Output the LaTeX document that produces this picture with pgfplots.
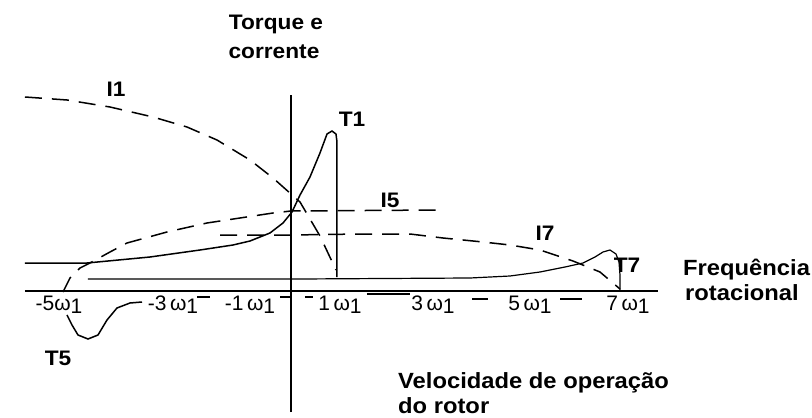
\documentclass[border=0pt]{standalone}
\usepackage{fontspec}
\setmainfont{Liberation Sans}
\newfontfamily\labelfont[FakeStretch=1.08]{Liberation Sans}
\usepackage{pgfplots}
\pgfplotsset{compat=1.18}

% x in multiples of the supply frequency omega_1, y in arbitrary torque/current units
\pgfplotstableread{
x y
-5.783 194
-4.870 191
-3.935 184
-3.000 174
-2.261 164
-1.609 151
-0.891 131
-0.391 113
0.196 89
0.630 55
0.978 21
}\curIone
\pgfplotstableread{
x y
-4.957 -1
-4.804 13
-4.587 23
-4.370 28
-3.935 39
-3.565 48
-2.696 59
-1.826 68
-1.109 73
-0.391 78
0 80
3.239 81
}\curIfive
\pgfplotstableread{
x y
-1.543 56
0 56
1.5 57
2.587 57
3.304 53
4.174 49
4.761 46
5.413 41
6.130 30
6.717 19
7.152 2
}\curIseven
\pgfplotstableread{
x y
-5.783 28
-4.435 28
-3.065 34
-1.978 41
-1.261 46
-0.891 50
-0.457 58
-0.174 68
0.022 79
0.196 96
0.413 114
0.630 138
0.783 157
0.891 160
0.978 157
1.0 149
1.0 14
}\torTone
\pgfplotstableread{
x y
-4.870 -24
-4.761 -34
-4.630 -44
-4.413 -48
-4.196 -44
-4.0 -29
-3.783 -17
-3.5 -12
-3.239 -11
}\torTfive
\pgfplotstableread{
x y
-4.413 12
0.196 12
3.891 13
4.761 15
5.413 19
5.957 24
6.348 28
6.609 34
6.783 39
6.935 41
7.065 37
7.130 29
7.152 16
7.152 0
}\torTseven

\begin{document}
\begin{tikzpicture}
\path[use as bounding box] (-291pt,-127pt) rectangle (521pt,291pt);
\begin{axis}[
  anchor=origin, at={(0pt,0pt)},
  x=46pt, y=1pt,
  xmin=-5.783, xmax=7.978, ymin=-121, ymax=196,
  axis lines=middle,
  axis line style={line width=2.6pt,-},
  xtick=\empty, ytick=\empty,
  clip=false,
  unbounded coords=jump,
  every axis plot/.append style={line width=1.5pt, no marks},
  dashcurve/.style={black, dash pattern=on 17pt off 10pt},
]
\addplot[dashcurve] table {\curIone};
\addplot[dashcurve] table {\curIfive};
\addplot[dashcurve] table {\curIseven};
\addplot[black] table {\torTone};
\addplot[black] table {\torTfive};
\addplot[black, line width=1.2pt] table {\torTseven};
% short strokes between the frequency labels
\addplot[black, line width=1.2pt] coordinates {
  (-2.043,-6) (-1.761,-6) (nan,nan)
  (-0.239,-6) (-0.022,-6) (nan,nan)
  (0.304,-6) (0.478,-6) (nan,nan)
  (1.652,-3) (2.587,-3) (nan,nan)
  (3.935,-8) (4.283,-8) (nan,nan)
  (5.848,-8) (6.326,-8)};
\end{axis}

% frequency labels
\begin{scope}[every node/.style={anchor=base, inner sep=0pt, font=\fontsize{21}{25}\selectfont}]
\node at (-232pt,-19pt) {-5ω\raisebox{-0.35ex}{1}};
\node at (-118pt,-19pt) {-3\,ω\raisebox{-0.35ex}{1}};
\node at (-41pt,-19pt) {-1\,ω\raisebox{-0.35ex}{1}};
\node at (49pt,-19pt) {1\,ω\raisebox{-0.35ex}{1}};
\node at (142pt,-19pt) {3\,ω\raisebox{-0.35ex}{1}};
\node at (239pt,-19pt) {5\,ω\raisebox{-0.35ex}{1}};
\node at (337pt,-19pt) {7\,ω\raisebox{-0.35ex}{1}};
\end{scope}

% curve names and axis titles
\begin{scope}[every node/.style={inner sep=0pt, font=\labelfont\bfseries\fontsize{21}{25}\selectfont}]
\node[anchor=base] at (-175pt,194pt) {I1};
\node[anchor=base] at (61pt,164pt) {T1};
\node[anchor=base] at (99pt,84pt) {I5};
\node[anchor=base] at (254pt,51pt) {I7};
\node[anchor=base] at (336pt,19pt) {T7};
\node[anchor=base] at (-233pt,-74pt) {T5};
\node[anchor=base] at (-15pt,261pt) {Torque e};
\node[anchor=base] at (-17pt,232pt) {corrente};
\node[anchor=base west, font=\labelfont\bfseries\fontsize{22}{26}\selectfont] at (392pt,16pt) {Frequência};
\node[anchor=base west, font=\labelfont\bfseries\fontsize{22}{26}\selectfont] at (394pt,-9pt) {rotacional};
\node[anchor=base west, font=\labelfont\bfseries\fontsize{22}{26}\selectfont] at (107pt,-97pt) {Velocidade de operação};
\node[anchor=base west, font=\labelfont\bfseries\fontsize{22}{26}\selectfont] at (107pt,-122pt) {do rotor};
\end{scope}
\end{tikzpicture}
\end{document}
